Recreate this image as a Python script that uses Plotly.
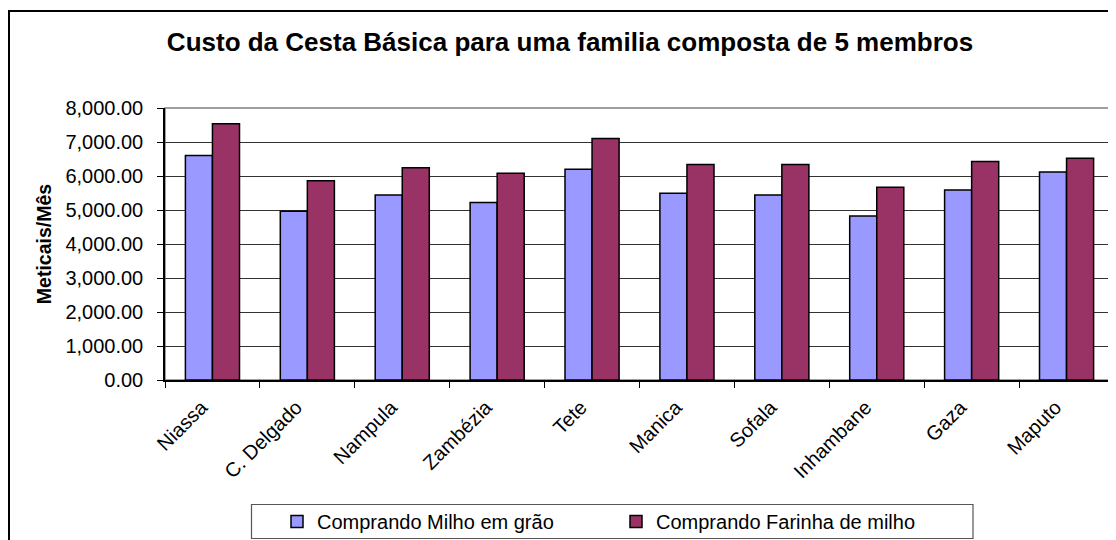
import plotly.graph_objects as go

categories = ["Niassa", "C. Delgado", "Nampula", "Zambézia", "Tete",
              "Manica", "Sofala", "Inhambane", "Gaza", "Maputo"]
milho_grao = [6600, 4960, 5440, 5220, 6200, 5490, 5440, 4820, 5590, 6120]
farinha_milho = [7540, 5860, 6240, 6080, 7100, 6340, 6340, 5670, 6430, 6520]
series_names = ["Comprando Milho em grão", "Comprando Farinha de milho"]
title_text = "Custo da Cesta Básica para uma familia composta de 5 membros"
y_title = "Meticais/Mês"

FONT = "Liberation Sans, Arial, sans-serif"
OFF = 8  # page body margin
W, H = 1116 - OFF, 540 - OFF
ML, MT = 165 - OFF, 108 - OFF
PLOT_R, PLOT_B = 1114 - OFF, 380 - OFF
MR, MB = W - PLOT_R, H - PLOT_B
PW = W - ML - MR
PH = H - MT - MB

def px_x(x):
    # x in reference-image pixels
    return (x - OFF - ML) / PW

def px_y(y):
    return (PLOT_B - (y - OFF)) / PH

fig = go.Figure()
fig.add_trace(go.Bar(x=categories, y=milho_grao, name=series_names[0],
                     marker=dict(color="#9999FF", line=dict(color="black", width=1.5))))
fig.add_trace(go.Bar(x=categories, y=farinha_milho, name=series_names[1],
                     marker=dict(color="#993366", line=dict(color="black", width=1.5))))

fig.update_layout(
    width=W, height=H,
    margin=dict(l=ML, r=MR, t=MT, b=MB, autoexpand=False),
    paper_bgcolor="white", plot_bgcolor="white",
    font=dict(family=FONT, color="black", size=20),
    barmode="group", bargap=0.43, bargroupgap=0,
    title=dict(text="<b>" + title_text + "</b>", x=px_x(570), xanchor="center",
               xref="paper", y=1 - (42 - OFF) / H, yref="container", yanchor="middle",
               font=dict(size=26, family=FONT, color="black")),
    showlegend=True,
    legend=dict(orientation="h", x=px_x(277), xanchor="left", y=px_y(521.5),
                yanchor="middle", bgcolor="rgba(0,0,0,0)", borderwidth=0,
                entrywidth=294, entrywidthmode="pixels",
                font=dict(size=20, family=FONT, color="black")),
    xaxis=dict(showline=True, linecolor="black", linewidth=1.5,
               ticks="outside", ticklen=6, tickcolor="black", tickson="boundaries",
               tickangle=-45, tickfont=dict(size=20), showgrid=False,
               ticklabelshift=-11, ticklabelstandoff=6),
    yaxis=dict(range=[0, 8000], dtick=1000, tickformat=",.2f",
               showline=True, linecolor="black", linewidth=1.5,
               ticks="outside", ticklen=6, tickcolor="black",
               ticklabelstandoff=10,
               gridcolor="#333333", gridwidth=1, zeroline=False,
               tickfont=dict(size=20),
               title=dict(text="<b>" + y_title + "</b>", standoff=9,
                          font=dict(size=19.5, family=FONT))),
    shapes=[
        dict(type="rect", xref="paper", yref="paper", x0=0, x1=1, y0=0, y1=1,
             line=dict(color="#808080", width=1.5), layer="below"),
        dict(type="rect", xref="paper", yref="paper",
             x0=px_x(9), x1=px_x(1122), y0=px_y(548), y1=px_y(11),
             line=dict(color="black", width=2)),
        dict(type="rect", xref="paper", yref="paper",
             x0=px_x(251.5), x1=px_x(973), y0=px_y(538.5), y1=px_y(504.5),
             line=dict(color="#555555", width=1.2)),
    ],
)

fig.write_html("out.html")
